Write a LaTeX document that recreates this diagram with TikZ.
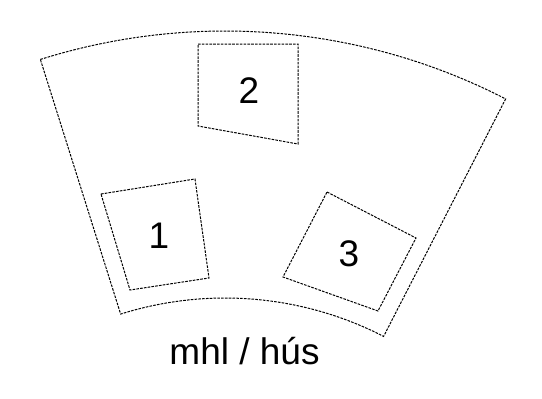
\documentclass[tikz,border=0pt]{standalone}
\usepackage{fontspec}
\setmainfont{Liberation Sans}
\begin{document}
\begin{tikzpicture}[x=1pt,y=-1pt,
  zone/.style={draw=black,line width=1pt,dash pattern=on 2.6pt off 1.2pt,line join=miter},
  lbl/.style={font=\fontsize{37}{40}\selectfont,inner sep=0pt,anchor=base}]
\useasboundingbox (0,0) rectangle (542,399);
% outer annular sector
\coordinate (c) at (225,645);
\draw[zone] ([shift={(225pt,-645pt)}]107.5:614pt) arc[start angle=107.5,end angle=62.8,radius=614pt]
  -- ([shift={(225pt,-645pt)}]62.8:347pt) arc[start angle=62.8,end angle=107.5,radius=347pt] -- cycle;
% box 2
\coordinate (b2a) at (198,44);
\coordinate (b2b) at (298,44);
\coordinate (b2c) at (298,144);
\coordinate (b2d) at (198,126);
\draw[zone] (b2a) -- (b2b) -- (b2c) -- (b2d) -- cycle;
% box 1
\coordinate (b1a) at (101,194);
\coordinate (b1b) at (195,179);
\coordinate (b1c) at (209,278);
\coordinate (b1d) at (130,290);
\draw[zone] (b1a) -- (b1b) -- (b1c) -- (b1d) -- cycle;
% box 3
\coordinate (b3a) at (327,192);
\coordinate (b3b) at (416,238);
\coordinate (b3c) at (378,311);
\coordinate (b3d) at (283,277);
\draw[zone] (b3a) -- (b3b) -- (b3c) -- (b3d) -- cycle;
% labels
\node[lbl] (l2) at (249,103) {2};
\node[lbl] (l1) at (159,248) {1};
\node[lbl] (l3) at (349,266) {3};
\node[lbl] (cap) at (244.5,364) {mhl / hús};
\end{tikzpicture}
\end{document}
